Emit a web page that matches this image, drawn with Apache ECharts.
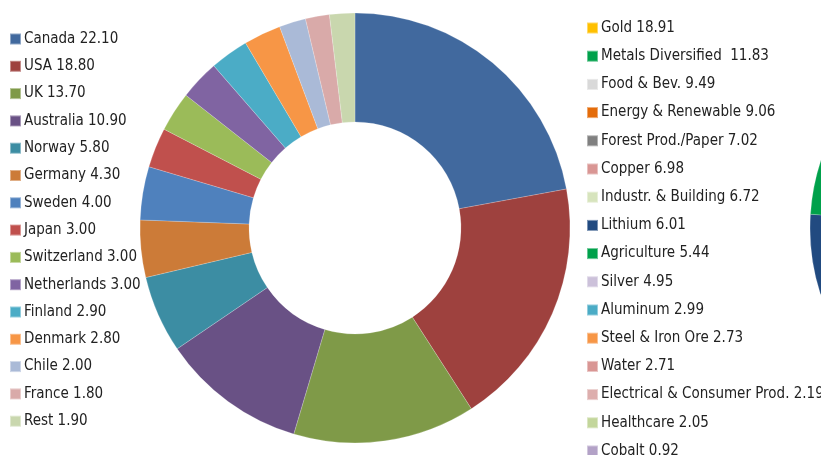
<!DOCTYPE html>
<html>
<head>
<meta charset="utf-8">
<script src="https://cdn.jsdelivr.net/npm/echarts@6/dist/echarts.min.js"></script>
<style>
  html, body { margin: 0; padding: 0; background: #fff; }
  #chart { width: 821px; height: 455px; }
</style>
</head>
<body>
<div id="chart"></div>
<script>
// countries (left donut)
var countryNames = ['Canada', 'USA', 'UK', 'Australia', 'Norway', 'Germany', 'Sweden', 'Japan',
  'Switzerland', 'Netherlands', 'Finland', 'Denmark', 'Chile', 'France', 'Rest'];
var countryValues = [22.10, 18.80, 13.70, 10.90, 5.80, 4.30, 4.00, 3.00, 3.00, 3.00, 2.90, 2.80, 2.00, 1.80, 1.90];
var countryColors = ['#41699E', '#9E413E', '#7F9A48', '#695185', '#3C8DA3', '#CC7B38', '#4F81BD', '#C0504D',
  '#9BBB59', '#8064A2', '#4BACC6', '#F79646', '#AABAD7', '#D9AAA9', '#C9D7AE'];

// sectors (right donut, mostly off-screen)
var sectorNames = ['Gold', 'Metals Diversified ', 'Food & Bev.', 'Energy & Renewable', 'Forest Prod./Paper', 'Copper',
  'Industr. & Building', 'Lithium', 'Agriculture', 'Silver', 'Aluminum', 'Steel & Iron Ore', 'Water',
  'Electrical & Consumer Prod.', 'Healthcare', 'Cobalt'];
var sectorValues = [18.91, 11.83, 9.49, 9.06, 7.02, 6.98, 6.72, 6.01, 5.44, 4.95, 2.99, 2.73, 2.71, 2.19, 2.05, 0.92];
var sectorColors = ['#FFC000', '#00A14B', '#D9D9D9', '#E46C0A', '#808080', '#D99694', '#D7E4BD', '#214A80',
  '#00A14B', '#CCC1DA', '#4BACC6', '#F79646', '#D99694', '#DDAEAD', '#C3D69B', '#B3A2C7'];

var font = "'Liberation Sans Narrow', 'DejaVu Sans Condensed', sans-serif";

function buildData(names, values, colors) {
  return names.map(function (n, i) {
    return { name: n, value: values[i], itemStyle: { color: colors[i] } };
  });
}

function valueMap(names, values) {
  var m = {};
  names.forEach(function (n, i) { m[n] = values[i]; });
  return m;
}

var countryMap = valueMap(countryNames, countryValues);
var sectorMap = valueMap(sectorNames, sectorValues);

var myChart = echarts.init(document.getElementById('chart'));

var option = {
  animation: false,
  backgroundColor: '#fff',
  legend: [
    {
      orient: 'vertical',
      left: 4,
      top: 24,
      height: 600,
      itemWidth: 11,
      itemHeight: 11,
      itemGap: 7.3,
      icon: 'rect',
      selectedMode: false,
      data: countryNames,
      textStyle: { fontFamily: font, fontSize: 15, color: '#222', lineHeight: 20, padding: [0, 0, 0, -2] },
      formatter: function (name) {
        return name + ' ' + countryMap[name].toFixed(2);
      }
    },
    {
      orient: 'vertical',
      left: 581,
      top: 13,
      height: 600,
      itemWidth: 11,
      itemHeight: 11,
      itemGap: 8.2,
      icon: 'rect',
      selectedMode: false,
      data: sectorNames,
      textStyle: { fontFamily: font, fontSize: 15, color: '#222', lineHeight: 20, padding: [0, 0, 0, -2] },
      formatter: function (name) {
        return name + ' ' + sectorMap[name].toFixed(2);
      }
    }
  ],
  series: [
    {
      type: 'pie',
      center: [355, 228],
      radius: [106, 215],
      startAngle: 90,
      clockwise: true,
      label: { show: false },
      labelLine: { show: false },
      emphasis: { disabled: true },
      itemStyle: { borderColor: 'rgba(255,255,255,0.4)', borderWidth: 0.5 },
      data: buildData(countryNames, countryValues, countryColors)
    },
    {
      type: 'pie',
      center: [1025, 228],
      radius: [106, 215],
      startAngle: 90,
      clockwise: true,
      label: { show: false },
      labelLine: { show: false },
      emphasis: { disabled: true },
      itemStyle: { borderColor: 'rgba(255,255,255,0.4)', borderWidth: 0.5 },
      data: buildData(sectorNames, sectorValues, sectorColors)
    }
  ]
};

if (option && typeof option === 'object') {
  myChart.setOption(option);
}
</script>
</body>
</html>
